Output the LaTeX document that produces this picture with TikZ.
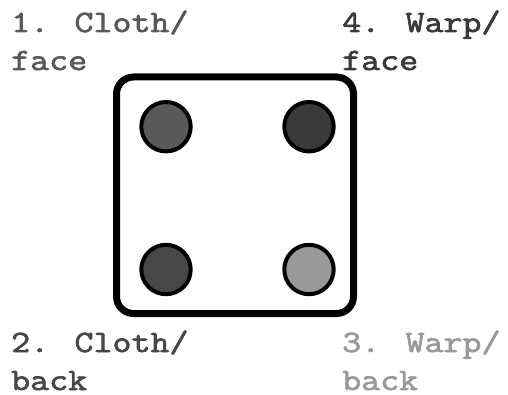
\documentclass[tikz,border=0pt]{standalone}
\usepackage{fontspec}
\newfontfamily\labelmono[FakeStretch=1.19,FakeBold=2.2]{Latin Modern Mono}
\definecolor{cA}{HTML}{595959}
\definecolor{cB}{HTML}{474747}
\definecolor{cC}{HTML}{999999}
\definecolor{cD}{HTML}{3A3A3A}
\tikzset{
  lbl/.style={anchor=base west, inner sep=0pt, font={\labelmono\fontsize{31}{38}\selectfont}},
  dot/.style={circle, draw=black, line width=4pt, minimum size=49.4pt, inner sep=0pt},
  frame/.style={draw=black, line width=7pt, rounded corners=17pt}
}
\begin{document}
\begin{tikzpicture}[x=1pt,y=1pt]
\useasboundingbox (0,0) rectangle (508,394);
\draw[frame] (116.5,317) rectangle (353.5,80.5);
\node[dot, fill=cA] (d1) at (166,267.3) {};
\node[dot, fill=cD] (d4) at (309,267.3) {};
\node[dot, fill=cB] (d2) at (166,124.5) {};
\node[dot, fill=cC] (d3) at (309,124.5) {};
\node[lbl, text=cA] (l1a) at (11,362) {1. Cloth/};
\node[lbl, text=cA] (l1b) at (11,324) {face};
\node[lbl, text=cD] (l4a) at (342,362) {4. Warp/};
\node[lbl, text=cD] (l4b) at (342,324) {face};
\node[lbl, text=cB] (l2a) at (11,42) {2. Cloth/};
\node[lbl, text=cB] (l2b) at (11,4) {back};
\node[lbl, text=cC] (l3a) at (342,42) {3. Warp/};
\node[lbl, text=cC] (l3b) at (342,4) {back};
\end{tikzpicture}
\end{document}
